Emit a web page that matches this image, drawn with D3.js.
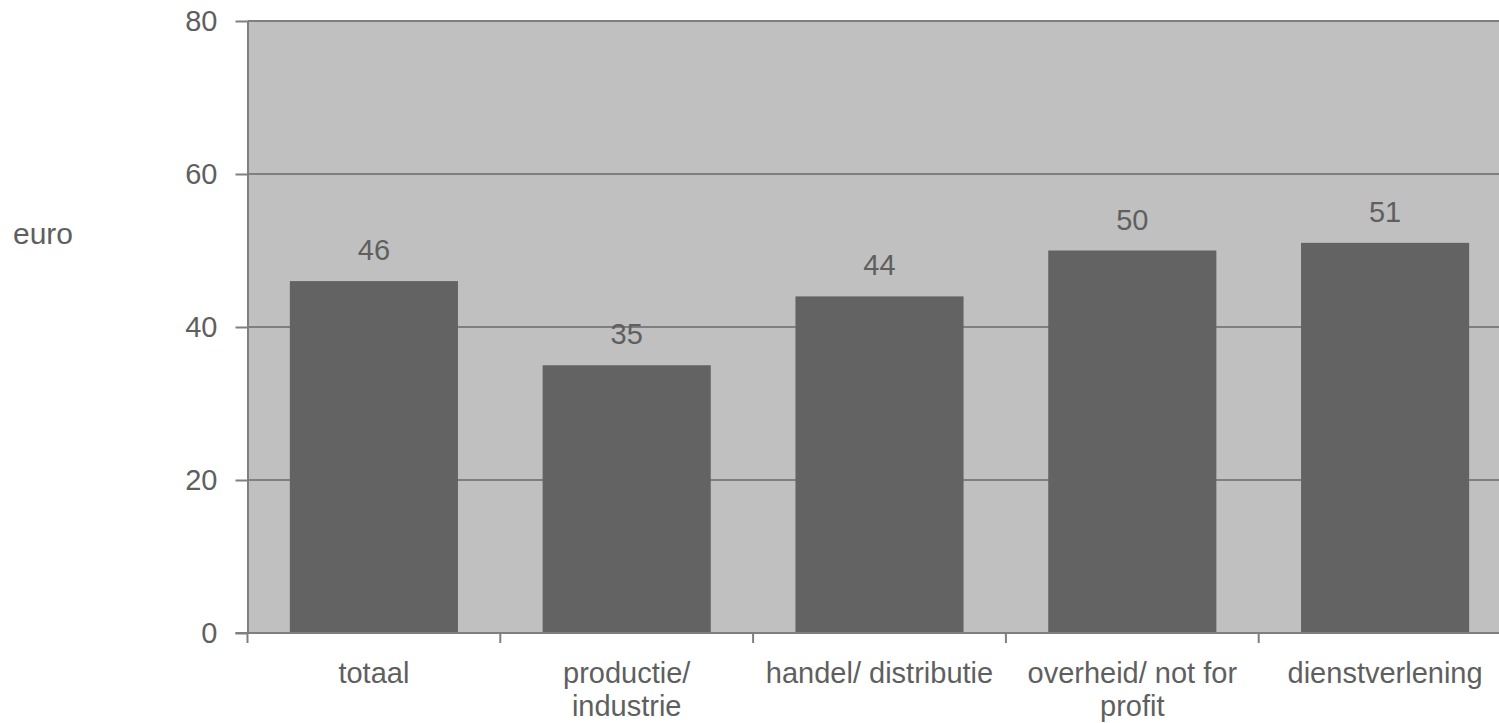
<!DOCTYPE html>
<html>
<head>
<meta charset="utf-8">
<script src="https://cdn.jsdelivr.net/npm/d3@7"></script>
<style>
html,body{margin:0;padding:0;background:#fff;overflow:hidden;}
svg{display:block;}
text{font-family:"Liberation Sans",Arial,sans-serif;fill:#5f5f5f;}
</style>
</head>
<body>
<svg id="chart" width="1499" height="723"></svg>
<script>
const categories = [["totaal"], ["productie/", "industrie"], ["handel/ distributie"], ["overheid/ not for", "profit"], ["dienstverlening"]];
const values = [46, 35, 44, 50, 51];
const yTicks = [0, 20, 40, 60, 80];
const yLabel = "euro";

const svg = d3.select("#chart");
const mLeft = 247.5, mRight = 1511.5, mTop = 21, mBottom = 633;

const x = d3.scaleBand().domain(d3.range(categories.length)).range([mLeft, mRight])
  .paddingInner(0.335).paddingOuter(0.1675);
const y = d3.scaleLinear().domain([0, 80]).range([mBottom, mTop]);

svg.append("rect").attr("x", mLeft).attr("y", mTop).attr("width", mRight - mLeft).attr("height", mBottom - mTop)
  .attr("fill", "#c0c0c0");

// gridlines
svg.append("g").selectAll("line").data(yTicks.filter(d => d > 0)).join("line")
  .attr("x1", mLeft).attr("x2", mRight).attr("y1", d => y(d)).attr("y2", d => y(d))
  .attr("stroke", "#7f7f7f").attr("stroke-width", 2);

// bars
svg.append("g").selectAll("rect").data(values).join("rect")
  .attr("x", (d, i) => x(i)).attr("width", x.bandwidth())
  .attr("y", d => y(d)).attr("height", d => mBottom - y(d))
  .attr("fill", "#636363");

// value labels
svg.append("g").selectAll("text").data(values).join("text")
  .attr("x", (d, i) => x(i) + x.bandwidth() / 2).attr("y", d => y(d) - 21)
  .attr("text-anchor", "middle").attr("font-size", 29).text(d => d);

// y axis
const yAxis = d3.axisLeft(y).tickValues(yTicks).tickSize(12).tickPadding(18).tickSizeOuter(0);
const gy = svg.append("g").attr("transform", `translate(${mLeft},0)`).call(yAxis);
gy.select(".domain").attr("stroke", "#7f7f7f").attr("stroke-width", 2);
gy.selectAll(".tick line").attr("stroke", "#7f7f7f").attr("stroke-width", 2);
gy.selectAll(".tick text").attr("font-size", 29).attr("fill", "#5f5f5f")
  .attr("font-family", "Liberation Sans, Arial, sans-serif");

// x axis
const xTickScale = d3.scaleLinear().domain([0, categories.length]).range([mLeft, mRight]);
const xAxisG = svg.append("g");
xAxisG.append("line").attr("x1", mLeft - 12).attr("x2", mRight).attr("y1", mBottom).attr("y2", mBottom)
  .attr("stroke", "#7f7f7f").attr("stroke-width", 2);
xAxisG.selectAll("line.tk").data(d3.range(categories.length + 1)).join("line").attr("class", "tk")
  .attr("x1", d => xTickScale(d)).attr("x2", d => xTickScale(d))
  .attr("y1", mBottom).attr("y2", mBottom + 10)
  .attr("stroke", "#7f7f7f").attr("stroke-width", 2);

const catText = svg.append("g").selectAll("text").data(categories).join("text")
  .attr("text-anchor", "middle").attr("font-size", 29)
  .attr("x", (d, i) => x(i) + x.bandwidth() / 2).attr("y", 683);
catText.each(function(lines, i) {
  d3.select(this).selectAll("tspan").data(lines).join("tspan")
    .attr("x", x(i) + x.bandwidth() / 2).attr("dy", (d, j) => j === 0 ? 0 : 33).text(d => d);
});

// y label
svg.append("text").attr("x", 13).attr("y", 244).attr("font-size", 30).text(yLabel);
</script>
</body>
</html>
